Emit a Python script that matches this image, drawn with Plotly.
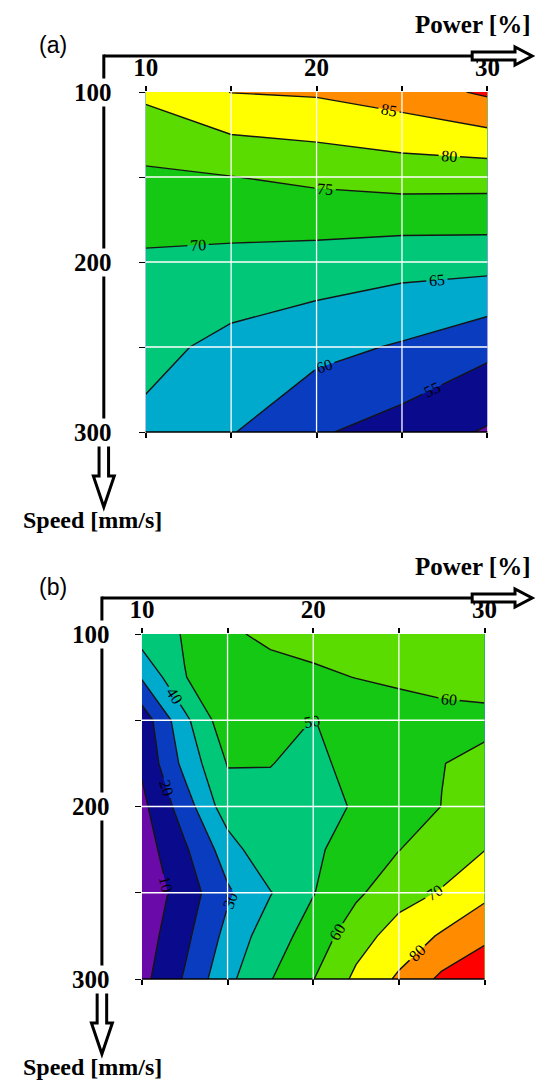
import plotly.graph_objects as go

# ---------------- data ----------------
# panel (a): rows = speed, columns = power
power_a = [10, 15, 20, 25, 30]
speed_a = [100, 150, 200, 250, 300]
z_a = [
    [81.0, 85.1, 85.6, 87.5, 90.8],
    [74.1, 74.9, 76.1, 77.05, 77.0],
    [69.2, 68.6, 67.9, 66.8, 66.7],
    [66.5, 63.6, 61.5, 59.5, 56.25],
    [63.8, 60.3, 55.6, 52.8, 49.5],
]

# panel (b): rows = speed, columns = power
power_b = [10, 12.5, 15, 17.5, 20, 22.5, 25, 27.5, 30]
speed_b = [100, 125, 150, 175, 200, 225, 250, 275, 300]
z_b = [
    [45.0, 50.6, 58.5, 62.0, 63.5, 64.5, 65.0, 65.5, 65.0],
    [31.0, 49.8, 54.1, 56.5, 58.3, 60.2, 61.3, 62.5, 63.0],
    [13.9, 37.5, 57.0, 54.0, 49.8, 53.0, 56.5, 57.5, 58.0],
    [11.5, 33.0, 50.5, 50.3, 47.0, 54.0, 57.0, 59.8, 62.0],
    [7.5, 25.0, 45.8, 47.0, 48.0, 50.5, 56.0, 60.1, 63.0],
    [5.0, 18.5, 35.0, 48.6, 49.3, 51.8, 59.8, 65.0, 69.8],
    [3.0, 14.5, 28.5, 39.5, 49.6, 58.2, 66.5, 70.7, 77.5],
    [5.0, 17.5, 33.0, 45.5, 54.0, 66.0, 74.0, 81.1, 88.0],
    [7.0, 21.0, 37.5, 49.5, 59.7, 72.0, 81.5, 92.0, 97.0],
]

power_ticks = [10, 15, 20, 25, 30]
power_labels = ["10", "", "20", "", "30"]
speed_ticks = [100, 150, 200, 250, 300]
speed_labels = ["100", "", "200", "", "300"]

band_colors = ["#6A0AA8", "#0A0A8C", "#0A3CC0", "#00AACC", "#00C878",
               "#14C814", "#5ADC00", "#FFFF00", "#FF8C00", "#FF0000"]
n = len(band_colors) - 1
colorscale = [[k / n, c] for k, c in enumerate(band_colors)]

# the page body has an 8px margin, so the figure is offset by 8px
OFF = 8
W, H = 540, 1075
SERIF = "Liberation Serif"


def px(x):
    return (x - OFF) / W


def py(y):
    return 1 - (y - OFF) / H


def poly(points):
    return "M " + " L ".join(f"{px(x):.5f},{py(y):.5f}" for x, y in points) + " Z"


panels = [
    dict(tag="(a)", x=power_a, y=speed_a, z=z_a, start=50, end=90, size=5,
         left=139, right=498, top=92, bottom=432, ax_x=95, ax_y=56),
    dict(tag="(b)", x=power_b, y=speed_b, z=z_b, start=10, end=90, size=10,
         left=135, right=495, top=634, bottom=979, ax_x=93, ax_y=598),
]

fig = go.Figure()
shapes = []
annotations = []
layout = {}

for i, p in enumerate(panels):
    xn = "" if i == 0 else "2"
    xa, ya = "x" + xn, "y" + xn

    fig.add_trace(go.Contour(
        x=p["x"], y=p["y"], z=p["z"], xaxis=xa, yaxis=ya,
        colorscale=colorscale, showscale=False,
        contours=dict(start=p["start"], end=p["end"], size=p["size"],
                      coloring="fill", showlabels=True,
                      labelfont=dict(family=SERIF, size=16, color="black")),
        line=dict(color="#151515", width=1.4, smoothing=0),
        hoverinfo="skip"))

    dom_x = [px(p["left"]), px(p["right"])]
    dom_y = [py(p["bottom"]), py(p["top"])]
    layout["xaxis" + xn] = dict(
        domain=dom_x, range=[power_ticks[0], power_ticks[-1]], anchor=ya,
        side="top", mirror="ticks", showline=False,
        ticks="outside", ticklen=5, tickwidth=1.5, tickcolor="black",
        tickvals=power_ticks,
        ticktext=[f"<b>{t}</b>" if t else "" for t in power_labels],
        tickfont=dict(family=SERIF, size=25, color="black"),
        showgrid=False, zeroline=False)
    layout["yaxis" + xn] = dict(
        domain=dom_y, range=[speed_ticks[-1], speed_ticks[0]], anchor=xa,
        ticks="outside", ticklen=6, tickwidth=1.2, tickcolor="black",
        tickvals=speed_ticks, showticklabels=False, showgrid=False,
        zeroline=False, showline=False)

    # bottom axis line
    shapes.append(dict(type="line", xref=xa + " domain", yref=ya + " domain",
                       x0=0, x1=1, y0=0, y1=0, line=dict(color="black", width=1.6),
                       layer="above"))
    # white grid lines over the filled contours
    for g in power_ticks[1:-1]:
        shapes.append(dict(type="line", xref=xa, yref=ya + " domain", x0=g, x1=g,
                           y0=0, y1=1, line=dict(color="white", width=1.3), layer="above"))
    for g in speed_ticks[1:-1]:
        shapes.append(dict(type="line", xref=xa + " domain", yref=ya, x0=0, x1=1,
                           y0=g, y1=g, line=dict(color="white", width=1.3), layer="above"))

    # big axis arrows
    ax_x, ax_y, b = p["ax_x"], p["ax_y"], p["bottom"]
    shapes.append(dict(type="line", xref="paper", yref="paper",
                       x0=px(ax_x), x1=px(486), y0=py(ax_y), y1=py(ax_y),
                       line=dict(color="black", width=3)))
    shapes.append(dict(type="line", xref="paper", yref="paper",
                       x0=px(ax_x), x1=px(ax_x), y0=py(ax_y - 1.5), y1=py(b),
                       line=dict(color="black", width=3)))
    shapes.append(dict(type="path", xref="paper", yref="paper",
                       path=poly([(482, ax_y - 4), (527, ax_y - 4), (527, ax_y - 9),
                                  (545, ax_y), (527, ax_y + 9), (527, ax_y + 4),
                                  (482, ax_y + 4)]),
                       fillcolor="white", line=dict(color="black", width=3)))
    shapes.append(dict(type="path", xref="paper", yref="paper",
                       path=poly([(ax_x - 5, b), (ax_x - 5, b + 44), (ax_x - 11, b + 44),
                                  (ax_x, b + 75), (ax_x + 11, b + 44), (ax_x + 5, b + 44),
                                  (ax_x + 5, b)]),
                       fillcolor="white", line=dict(color="black", width=3)))

    # texts
    annotations.append(dict(text=p["tag"], xref="paper", yref="paper",
                            x=px(42), y=py(ax_y - 11), xanchor="center", yanchor="middle",
                            showarrow=False,
                            font=dict(family="Liberation Sans", size=23, color="black")))
    annotations.append(dict(text="<b>Power [%]</b>", xref="paper", yref="paper",
                            x=px(545), y=py(ax_y - 32), xanchor="right", yanchor="middle",
                            showarrow=False, font=dict(family=SERIF, size=25, color="black")))
    annotations.append(dict(text="<b>Speed [mm/s]</b>", xref="paper", yref="paper",
                            x=px(8), y=py(b + 88), xanchor="left", yanchor="middle",
                            showarrow=False, font=dict(family=SERIF, size=24, color="black")))
    for t, lab in zip(speed_ticks, speed_labels):
        if not lab:
            continue
        annotations.append(dict(text=f"<b>{lab}</b>", xref="paper", yref=ya,
                                x=px(ax_x + 10), y=t, xanchor="right", yanchor="middle",
                                showarrow=False, bgcolor="white", borderpad=0,
                                font=dict(family=SERIF, size=25, color="black")))

fig.update_layout(
    width=W, height=H, margin=dict(l=0, r=0, t=0, b=0),
    paper_bgcolor="white", plot_bgcolor="white", showlegend=False,
    shapes=shapes, annotations=annotations, **layout)

fig.write_html("out.html")
